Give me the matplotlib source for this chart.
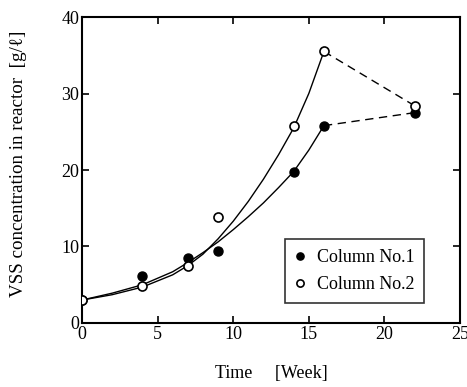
import matplotlib
matplotlib.use('Agg')
import matplotlib.pyplot as plt

# measured points
weeks = [0, 4, 7, 9, 14, 16, 22]
col1 = [3.0, 6.1, 8.5, 9.4, 19.7, 25.8, 27.5]
col2 = [3.0, 4.8, 7.5, 13.9, 25.7, 35.5, 28.4]

# fitted curves (weeks 0-16)
fit_x = [0, 2, 4, 6, 7, 8, 9, 10, 11, 12, 13, 14, 15, 16]
fit1 = [3.0, 3.9, 5.0, 6.7, 7.9, 9.2, 10.6, 12.2, 13.9, 15.7, 17.7, 19.8, 22.6, 25.8]
fit2 = [3.0, 3.7, 4.7, 6.3, 7.5, 9.0, 11.0, 13.3, 15.9, 18.8, 22.0, 25.5, 30.0, 35.5]

x_ticks = [0, 5, 10, 15, 20, 25]
y_ticks = [0, 10, 20, 30, 40]

plt.rcParams['font.family'] = ['Liberation Serif', 'DejaVu Serif']

fig = plt.figure(figsize=(4.67, 3.87), dpi=100)
ax = fig.add_axes([0.1756, 0.1654, 0.8094, 0.7906])

ax.plot(fit_x, fit1, color='black', lw=1.0)
ax.plot(fit_x, fit2, color='black', lw=1.0)
# dashed segments after week 16
ax.plot(weeks[-2:], col1[-2:], color='black', lw=1.0, ls=(0, (6, 4)))
ax.plot(weeks[-2:], col2[-2:], color='black', lw=1.0, ls=(0, (6, 4)))

ax.plot(weeks, col1, 'o', color='black', ms=6.5, ls='none', label='Column No.1', zorder=3)
ax.plot(weeks, col2, 'o', mfc='white', mec='black', mew=1.2, ms=6.5, ls='none',
        label='Column No.2', zorder=3)

ax.set_xlim(0, 25)
ax.set_ylim(0, 40)
ax.set_xticks(x_ticks)
ax.set_yticks(y_ticks)
ax.tick_params(direction='in', top=True, right=True, length=5, width=1.2,
               labelsize=13, pad=2)
for s in ax.spines.values():
    s.set_linewidth(1.5)

ax.set_xlabel('Time     [Week]', fontsize=13, labelpad=16)
ax.set_ylabel('VSS concentration in reactor  [g/\u2113]', fontsize=13.7)
ax.yaxis.set_label_coords(-0.145, 0.52)

leg = ax.legend(loc='lower left', bbox_to_anchor=(0.537, 0.065),
                fontsize=13, frameon=True, fancybox=False,
                edgecolor='black', handlelength=0.6, handletextpad=0.6,
                borderpad=0.55, labelspacing=0.55, markerscale=0.8,
                borderaxespad=0)
leg.get_frame().set_linewidth(1.2)

fig.savefig('out.png', dpi=100)
